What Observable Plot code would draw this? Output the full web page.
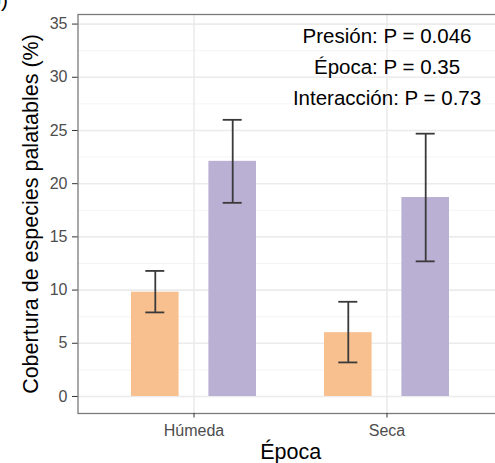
<!DOCTYPE html>
<html>
<head>
<meta charset="utf-8">
<script src="https://cdn.jsdelivr.net/npm/d3@7"></script>
<script src="https://cdn.jsdelivr.net/npm/@observablehq/plot@0.6"></script>
<style>
  html, body { margin: 0; padding: 0; background: #fff; }
  #wrap { position: relative; width: 495px; height: 463px; overflow: hidden; font-family: "Liberation Sans", Arial, Helvetica, sans-serif; }
  #wrap svg.plot { position: absolute; left: 0; top: 0; max-width: none !important; }
  #panel-tag { position: absolute; left: 0; top: 0; }
</style>
</head>
<body>
<div id="wrap">
  <svg id="panel-tag" width="30" height="20"><text x="-10.7" y="6.6" font-size="21" font-family="Liberation Sans, Arial, sans-serif" fill="#000">b)</text></svg>
</div>
<script>
// ---- data ----
const epocas = ["Húmeda", "Seca"];
const presiones = ["Baja", "Alta"];
const mediaBaja = [9.8, 6.0];
const infBaja = [7.9, 3.2];
const supBaja = [11.8, 8.9];
const mediaAlta = [22.1, 18.7];
const infAlta = [18.2, 12.7];
const supAlta = [26.0, 24.7];
const coloresPresion = ["#f9c08f", "#bab0d4"];
const yTicks = [0, 5, 10, 15, 20, 25, 30, 35];
const yMinor = [2.5, 7.5, 12.5, 17.5, 22.5, 27.5, 32.5];
const anotaciones = ["Presión: P = 0.046", "Época: P = 0.35", "Interacción: P = 0.73"];
const anotacionY = [33.8, 30.9, 28.0];
const tituloX = "Época";
const tituloY = "Cobertura de especies palatables (%)";

// ---- tables built from the arrays ----
const series = [
  {presion: presiones[0], media: mediaBaja, inf: infBaja, sup: supBaja},
  {presion: presiones[1], media: mediaAlta, inf: infAlta, sup: supAlta}
].map(s => epocas.map((e, j) => ({epoca: e, presion: s.presion, media: s.media[j], inf: s.inf[j], sup: s.sup[j]})));
const anotRows = anotaciones.map((t, i) => ({x: epocas[1], y: anotacionY[i], text: t}));

// ---- layout constants ----
const dodge = [-38.7, 38.7];
const barInset = 53.7;
const capInset = 68;
const font = "Liberation Sans, Arial, Helvetica, sans-serif";

const marks = [
  Plot.ruleY(yMinor, {stroke: "#f4f4f4", strokeWidth: 1}),
  Plot.ruleY(yTicks, {stroke: "#ebebeb", strokeWidth: 1.6}),
  Plot.ruleX(epocas, {x: d => d, stroke: "#ebebeb", strokeWidth: 1.6})
];
series.forEach((rows, i) => {
  marks.push(Plot.barY(rows, {x: "epoca", y: "media", fill: coloresPresion[i], dx: dodge[i], insetLeft: barInset, insetRight: barInset}));
});
series.forEach((rows, i) => {
  marks.push(Plot.ruleX(rows, {x: "epoca", y1: "inf", y2: "sup", dx: dodge[i], stroke: "#3a3a3a", strokeWidth: 1.8}));
  marks.push(Plot.tickY(rows, {x: "epoca", y: "inf", dx: dodge[i], insetLeft: capInset, insetRight: capInset, stroke: "#3a3a3a", strokeWidth: 1.8}));
  marks.push(Plot.tickY(rows, {x: "epoca", y: "sup", dx: dodge[i], insetLeft: capInset, insetRight: capInset, stroke: "#3a3a3a", strokeWidth: 1.8}));
});
marks.push(
  Plot.frame({stroke: "#7a7a7a", strokeWidth: 1.3}),
  Plot.axisY(yTicks, {tickSize: 5.5, tickPadding: 5, fontSize: 16, stroke: "#333", fill: "#4d4d4d", label: null}),
  Plot.axisX(epocas, {tickSize: 4.5, tickPadding: 6.5, fontSize: 16, stroke: "#333", fill: "#4d4d4d", label: null}),
  Plot.text(anotRows, {x: "x", y: "y", text: "text", fontSize: 20.5, fill: "#000", lineAnchor: "middle", textAnchor: "middle"}),
  Plot.text([tituloX], {frameAnchor: "bottom", text: d => d, dy: 39, lineAnchor: "middle", textAnchor: "middle", fontSize: 21.5, fill: "#000"}),
  Plot.text([tituloY], {frameAnchor: "left", text: d => d, dx: -47, rotate: -90, lineAnchor: "middle", textAnchor: "middle", fontSize: 21.5, fill: "#000"})
);

const chart = Plot.plot({
  width: 503,
  height: 463,
  marginLeft: 77.5,
  marginRight: 0,
  marginTop: 14,
  marginBottom: 50,
  style: {fontFamily: font, background: "transparent", overflow: "visible", maxWidth: "none"},
  x: {type: "band", domain: epocas, padding: 0.198, axis: null},
  y: {domain: [-1.6, 35.9], axis: null},
  marks
});
chart.classList.add("plot");
document.getElementById("wrap").prepend(chart);
</script>
</body>
</html>
